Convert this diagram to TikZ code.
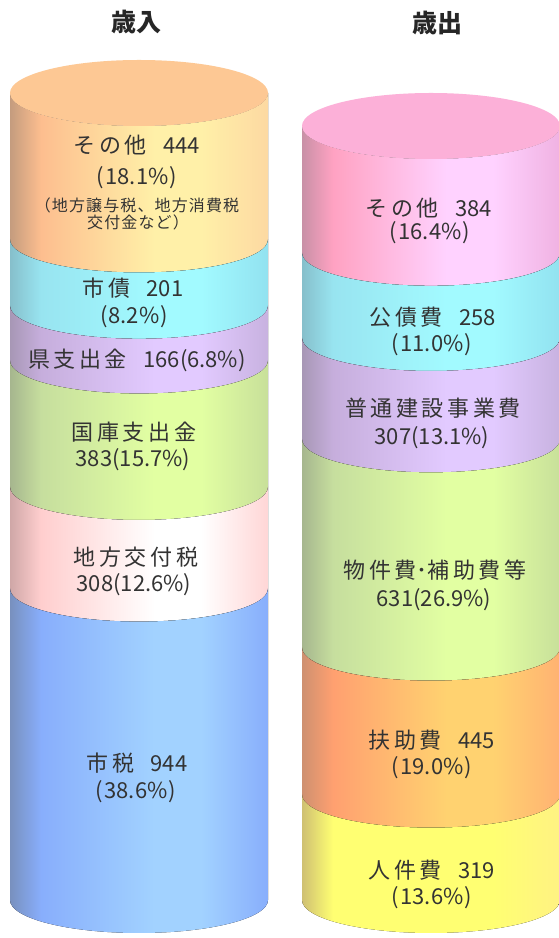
\documentclass[tikz,border=0pt]{standalone}
\usepackage{fontspec}
\setmainfont{Noto Sans CJK JP}
\newfontfamily\cjkls{Noto Sans CJK JP}[LetterSpace=16]
\newfontfamily\cjksm{Noto Sans CJK JP}[LetterSpace=7]
\definecolor{orA}{HTML}{C49C7E}\definecolor{orB}{HTML}{FDBE8F}\definecolor{orC}{HTML}{FFF0A8}\definecolor{orD}{HTML}{FDD9A2}\definecolor{orTop}{HTML}{FDC894}
\definecolor{cyA}{HTML}{86BFCB}\definecolor{cyB}{HTML}{98E4F0}\definecolor{cyC}{HTML}{A2FAFF}\definecolor{cyD}{HTML}{92E2F0}
\definecolor{puA}{HTML}{A797B5}\definecolor{puB}{HTML}{C6AEDC}\definecolor{puC}{HTML}{E2CAFF}\definecolor{puD}{HTML}{C8B2E0}
\definecolor{grA}{HTML}{A6B68E}\definecolor{grB}{HTML}{C6DE9E}\definecolor{grC}{HTML}{E2FFA2}\definecolor{grD}{HTML}{C8E09A}
\definecolor{pkA}{HTML}{CFA7A7}\definecolor{pkB}{HTML}{FFCECE}\definecolor{pkC}{HTML}{FFFFFF}\definecolor{pkD}{HTML}{FFD6D6}
\definecolor{blA}{HTML}{7890BE}\definecolor{blB}{HTML}{88AEFC}\definecolor{blC}{HTML}{A2D2FF}\definecolor{blD}{HTML}{88AEFC}
\definecolor{mgA}{HTML}{C890A6}\definecolor{mgB}{HTML}{FFA2C2}\definecolor{mgC}{HTML}{FFD2FF}\definecolor{mgD}{HTML}{F0B2E2}\definecolor{mgTop}{HTML}{FCB0D8}
\definecolor{oaA}{HTML}{CE9070}\definecolor{oaB}{HTML}{FFA070}\definecolor{oaC}{HTML}{FFD270}\definecolor{oaD}{HTML}{FFB272}
\definecolor{yeA}{HTML}{CFC072}\definecolor{yeB}{HTML}{FFFF72}\definecolor{yeC}{HTML}{FFFF72}\definecolor{yeD}{HTML}{FFF282}
\colorlet{cA}{black}\colorlet{cB}{black}\colorlet{cC}{black}\colorlet{cD}{black}
\pgfdeclarehorizontalshading[cA,cB,cC,cD]{bandshade}{100bp}{color(0bp)=(cA); color(25bp)=(cA); color(31bp)=(cB); color(53bp)=(cC); color(62bp)=(cC); color(75bp)=(cD); color(100bp)=(cD)}
\tikzset{
  bandfill/.style n args={4}{/utils/exec={\colorlet{cA}{#1}\colorlet{cB}{#2}\colorlet{cC}{#3}\colorlet{cD}{#4}}, shading=bandshade},
  lbl/.style={font=\fontsize{22}{25}\selectfont, inner sep=0pt, text=black!80},
  sml/.style={font=\fontsize{16}{18}\selectfont\cjksm, inner sep=0pt, text=black!80},
  ttl/.style={font=\fontsize{25}{28}\selectfont\bfseries, inner sep=0pt, text=black!85}
}
\newcommand\jp[1]{{\cjkls #1}}
\newcommand\gp{\hspace{0.75em}}
\newcommand\pc[1]{(\hspace{0.05em}#1\hspace{0.05em})}
% #1 cx, #2 Ytop, #3 Ybot, #4 colour prefix
\newcommand\myband[4]{\fill[bandfill={#4A}{#4B}{#4C}{#4D}] ({#1-129},#2) arc[start angle=180,end angle=360,x radius=129pt,y radius=33pt] -- ({#1+129},#3) arc[start angle=0,end angle=-180,x radius=129pt,y radius=33pt] -- cycle;}
\begin{document}
\begin{tikzpicture}[x=1pt,y=1pt]
\useasboundingbox (0,0) rectangle (558,938);
\fill[white] (0,0) rectangle (558,938);
% left cylinder
\myband{139}{845}{698.5}{or}
\myband{139}{698.5}{632.2}{cy}
\myband{139}{632.2}{577.4}{pu}
\myband{139}{577.4}{451.0}{gr}
\myband{139}{451.0}{349.4}{pk}
\myband{139}{349.4}{38}{bl}
\fill[orTop] (139,845) ellipse[x radius=129pt,y radius=33pt];
% right cylinder
\myband{431}{812}{685.2}{mg}
\myband{431}{685.2}{600}{cy}
\myband{431}{600}{498.6}{pu}
\myband{431}{498.6}{290.3}{gr}
\myband{431}{290.3}{143.3}{oa}
\myband{431}{143.3}{38}{ye}
\fill[mgTop] (431,812) ellipse[x radius=129pt,y radius=33pt];
% titles
\node[ttl] (tin) at (136,916) {歳入};
\node[ttl] (tout) at (437,915) {歳出};
% left labels
\node[lbl] (l1a) at (137,793) {\jp{その他}\gp 444};
\node[lbl] (l1b) at (137,760) {\pc{18.1\%}};
\node[sml] (l1c) at (137,733) {（地方譲与税、地方消費税};
\node[sml] (l1d) at (138,716) {交付金など）};
\node[lbl] (l2a) at (133,650) {\jp{市債}\gp 201};
\node[lbl] (l2b) at (134,621) {\pc{8.2\%}};
\node[lbl] (l3a) at (137,578) {\jp{県支出金}\gp 166(6.8\%)};
\node[lbl] (l4a) at (134,506) {\jp{国庫支出金}};
\node[lbl] (l4b) at (133,478) {383(15.7\%)};
\node[lbl] (l5a) at (136,381) {\jp{地方交付税}};
\node[lbl] (l5b) at (134,353) {308(12.6\%)};
\node[lbl] (l6a) at (137,175) {\jp{市税}\gp 944};
\node[lbl] (l6b) at (136,146) {\pc{38.6\%}};
% right labels
\node[lbl] (r1a) at (429,730) {\jp{その他}\gp 384};
\node[lbl] (r1b) at (430,705) {\pc{16.4\%}};
\node[lbl] (r2a) at (433,621) {\jp{公債費}\gp 258};
\node[lbl] (r2b) at (432,593) {\pc{11.0\%}};
\node[lbl] (r3a) at (433,530) {\jp{普通建設事業費}};
\node[lbl] (r3b) at (432,500) {307(13.1\%)};
\node[lbl] (r4a) at (435,368) {\jp{物件費}･\jp{補助費等}};
\node[lbl] (r4b) at (434,338) {631(26.9\%)};
\node[lbl] (r5a) at (432,198) {\jp{扶助費}\gp 445};
\node[lbl] (r5b) at (432,170) {\pc{19.0\%}};
\node[lbl] (r6a) at (432,68) {\jp{人件費}\gp 319};
\node[lbl] (r6b) at (432,40) {\pc{13.6\%}};
\end{tikzpicture}
\end{document}
